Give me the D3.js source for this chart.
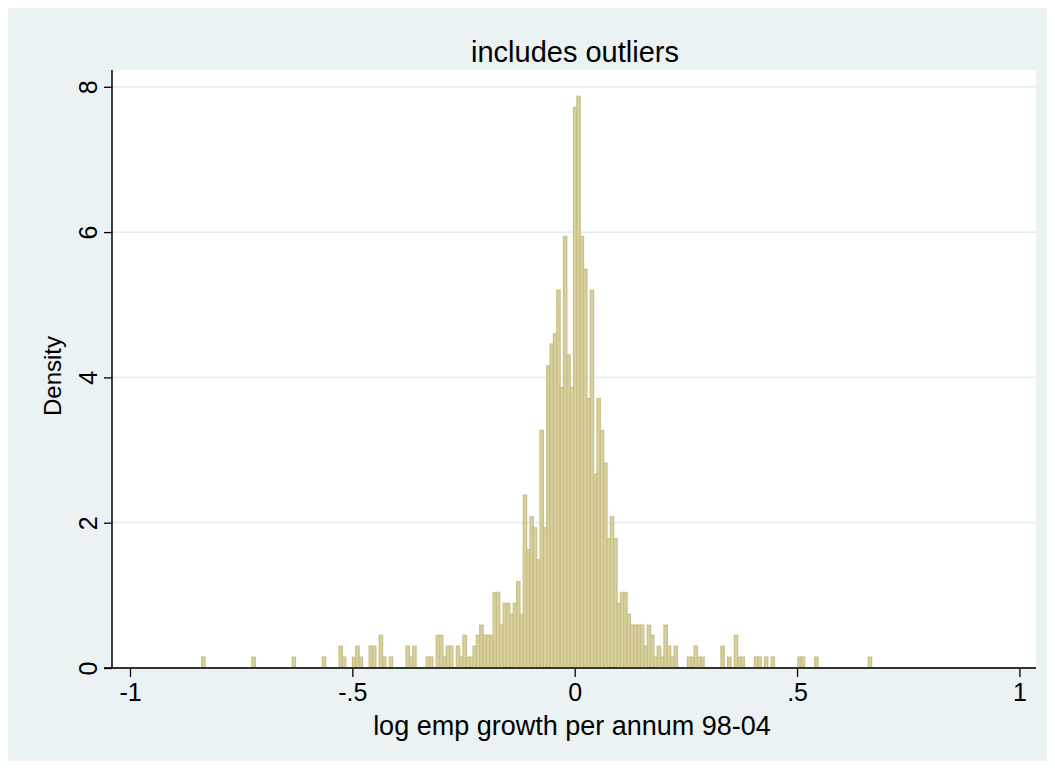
<!DOCTYPE html>
<html>
<head>
<meta charset="utf-8">
<script src="https://cdn.jsdelivr.net/npm/d3@7"></script>
<style>
  body { margin: 0; background: #fff; }
  svg text { font-family: "Liberation Sans", Arial, sans-serif; fill: #000; }
</style>
</head>
<body>
<svg id="chart" width="1055" height="769"></svg>
<script>
// histogram: 200 bins, only the non-empty ones are listed
const binStart = -0.8388
const binWidth = 0.007533
const binIdx = [
  0, 15, 27, 36, 41, 42, 45, 46, 47, 50, 51, 53, 54, 56,
  61, 62, 63, 67, 68, 70, 71, 72, 73, 74, 76, 77, 78, 79, 80, 81, 82, 83, 84, 85, 86,
  87, 88, 89, 90, 91, 92, 93, 94, 95, 96, 97, 98, 99, 100,
  101, 102, 103, 104, 105, 106, 107, 108, 109, 110, 111, 112, 113, 114, 115, 116, 117, 118, 119, 120,
  121, 122, 123, 124, 125, 126, 127, 128, 129, 130, 131, 132, 133, 134, 135, 136, 137, 138, 139, 140, 141,
  145, 146, 147, 148, 149, 155, 157, 159, 160, 161, 165, 166, 168, 170, 178, 179, 183, 199
]
const density = [
  .15, .15, .15, .15, .30, .15, .15, .30, .15, .30, .30, .45, .15, .15,
  .30, .15, .30, .15, .15, .45, .45, .15, .30, .30, .30, .15, .45, .15, .15, .30, .45, .59, .45, .45, .45,
  1.04, 1.04, .59, .89, .89, .74, .89, 1.19, .74, 2.38, 1.63, 2.08, 1.93, 1.49,
  3.27, 1.93, 4.16, 4.46, 4.60, 5.20, 3.86, 5.94, 4.31, 3.86, 7.72, 7.87, 5.94, 5.49, 3.71, 5.20, 2.67, 3.71, 3.27, 2.82,
  1.78, 2.08, 1.78, .89, 1.04, 1.04, .74, .59, .59, .59, .59, .30, .59, .45, .15, .30, .15, .59, .30, .15, .30,
  .15, .15, .30, .15, .15, .30, .15, .45, .15, .15, .15, .15, .15, .15, .15, .15, .15, .15
]

const xTicks = [-1, -.5, 0, .5, 1]
const xTickLabels = ["-1", "-.5", "0", ".5", "1"]
const yTicks = [0, 2, 4, 6, 8]
const yTickLabels = ["0", "2", "4", "6", "8"]

const title = "includes outliers"
const xTitle = "log emp growth per annum 98-04"
const yTitle = "Density"

const W = 1055, H = 769
const plot = {left: 112, right: 1036, top: 70, bottom: 668}

var svg = d3.select("#chart")

// outer graph region
svg.append("rect")
    .attr("x", 8).attr("y", 8)
    .attr("width", W - 16).attr("height", H - 16)
    .attr("fill", "#eaf2f3")

svg.append("rect")
    .attr("x", plot.left).attr("y", plot.top)
    .attr("width", plot.right - plot.left).attr("height", plot.bottom - plot.top)
    .attr("fill", "#fff")

var x = d3.scaleLinear()
    .domain([-1, 1])
    .range([130, 1019.4])

var y = d3.scaleLinear()
    .domain([0, 8])
    .range([plot.bottom, 86.8])

// gridlines
svg.append("g")
    .selectAll("line")
    .data(yTicks.filter(d => d > 0))
    .join("line")
    .attr("x1", plot.left).attr("x2", plot.right)
    .attr("y1", d => y(d)).attr("y2", d => y(d))
    .attr("stroke", "#e4eef0")
    .attr("stroke-width", 1.8)

// bars
const bw = x(binWidth) - x(0)
svg.append("g")
    .selectAll("rect")
    .data(binIdx.map((b, i) => ({lo: binStart + b * binWidth, d: density[i]})))
    .join("rect")
    .attr("x", d => x(d.lo))
    .attr("y", d => y(d.d))
    .attr("width", bw)
    .attr("height", d => y(0) - y(d.d))
    .attr("fill", "#d8d09d")
    .attr("stroke", "#c9bf88")
    .attr("stroke-width", 1.2)

// x axis
var xAxis = d3.axisBottom(x)
    .tickValues(xTicks)
    .tickFormat((d, i) => xTickLabels[i])
    .tickSize(9)
    .tickPadding(6)

var gx = svg.append("g")
    .attr("transform", `translate(0,${plot.bottom})`)
    .call(xAxis)
gx.select(".domain").remove()
gx.selectAll(".tick line").attr("stroke", "#000").attr("stroke-width", 1.3)
gx.selectAll(".tick text").attr("font-size", 25).attr("fill", "#000")

svg.append("line")
    .attr("x1", plot.left - 8).attr("x2", plot.right)
    .attr("y1", plot.bottom).attr("y2", plot.bottom)
    .attr("stroke", "#333").attr("stroke-width", 2)

// y axis
var yAxis = d3.axisLeft(y)
    .tickValues(yTicks)
    .tickFormat((d, i) => yTickLabels[i])
    .tickSize(8)

var gy = svg.append("g")
    .attr("transform", `translate(${plot.left},0)`)
    .call(yAxis)
gy.select(".domain").remove()
gy.selectAll(".tick line").attr("stroke", "#000").attr("stroke-width", 1.3)
gy.selectAll(".tick text")
    .attr("font-size", 25)
    .attr("fill", "#000")
    .attr("x", 0).attr("dy", 0)
    .attr("text-anchor", "middle")
    .attr("transform", "translate(-15,0) rotate(-90)")

svg.append("line")
    .attr("x1", plot.left).attr("x2", plot.left)
    .attr("y1", plot.top).attr("y2", plot.bottom)
    .attr("stroke", "#000").attr("stroke-width", 1.5)

// titles
svg.append("text")
    .attr("x", 575).attr("y", 62)
    .attr("text-anchor", "middle")
    .attr("font-size", 29)
    .text(title)

svg.append("text")
    .attr("x", 572).attr("y", 735)
    .attr("text-anchor", "middle")
    .attr("font-size", 27)
    .text(xTitle)

svg.append("text")
    .attr("transform", "translate(61,376) rotate(-90)")
    .attr("text-anchor", "middle")
    .attr("font-size", 24)
    .text(yTitle)
</script>
</body>
</html>
